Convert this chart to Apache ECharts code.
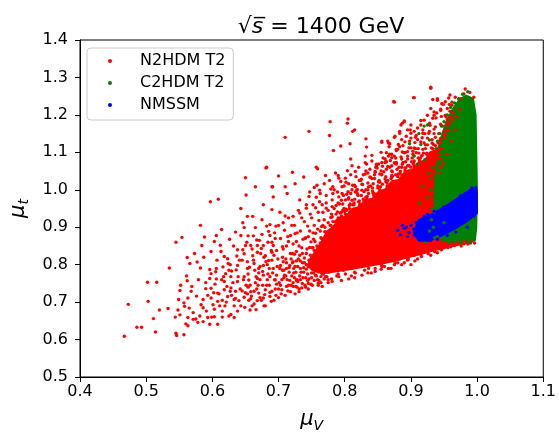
<!DOCTYPE html>
<html>
<head>
<meta charset="utf-8">
<script src="https://cdn.jsdelivr.net/npm/echarts@6/dist/echarts.min.js"></script>
<style>html,body{margin:0;padding:0;background:#fff}#c{width:559px;height:438px}</style>
</head>
<body>
<div id="c"></div>
<script>
// ---- data ----
const seriesNames = ['N2HDM T2', 'C2HDM T2', 'NMSSM'];
const xTicks = [0.4, 1.1, 0.1];   // min, max, step
const yTicks = [0.5, 1.4, 0.1];

// outlines of the regions where points overlap into solid colour [muV, mut]
const n2hdmCore = [[0.745,0.798],[0.752,0.786],[0.765,0.778],[0.785,0.783],[0.810,0.790],[0.835,0.798],[0.860,0.806],[0.885,0.816],[0.910,0.828],[0.935,0.840],[0.960,0.850],[0.985,0.860],[0.990,1.200],[0.978,1.205],[0.970,1.175],[0.962,1.178],[0.955,1.140],[0.948,1.135],[0.940,1.105],[0.930,1.100],[0.922,1.078],[0.912,1.072],[0.903,1.052],[0.892,1.048],[0.882,1.025],[0.872,1.022],[0.862,1.000],[0.852,0.995],[0.842,0.975],[0.832,0.972],[0.822,0.952],[0.812,0.948],[0.802,0.928],[0.792,0.920],[0.783,0.900],[0.774,0.888],[0.766,0.862],[0.758,0.840],[0.748,0.812]];
const c2hdmCore = [[0.983,1.250],[0.993,1.243],[0.997,1.200],[0.998,1.100],[0.999,1.000],[0.998,0.900],[0.996,0.866],[0.985,0.862],[0.965,0.862],[0.950,0.866],[0.942,0.880],[0.938,0.920],[0.936,0.980],[0.938,1.040],[0.942,1.090],[0.947,1.140],[0.954,1.180],[0.964,1.215],[0.974,1.240]];
const nmssmCore = [[0.912,0.918],[0.930,0.932],[0.950,0.952],[0.970,0.975],[0.988,0.997],[0.998,1.006],[0.999,0.990],[0.999,0.938],[0.985,0.918],[0.965,0.896],[0.945,0.878],[0.925,0.864],[0.912,0.866],[0.905,0.885]];

// individual points
const n2hdmPoints = [
[0.681,1.058],[0.650,1.032],[0.665,1.008],[0.691,1.008],[0.597,0.968],[0.609,0.975],[0.643,0.950],[0.651,0.986],[0.653,0.929],[0.661,0.929],
[0.675,0.920],[0.690,0.947],[0.677,0.960],[0.582,0.905],[0.614,0.894],[0.646,0.912],[0.648,0.899],[0.665,0.899],[0.682,0.903],[0.696,0.903],
[0.545,0.860],[0.554,0.873],[0.584,0.851],[0.606,0.878],[0.603,0.862],[0.635,0.887],[0.643,0.878],[0.654,0.877],[0.662,0.877],[0.675,0.881],
[0.687,0.878],[0.598,0.835],[0.613,0.835],[0.650,0.851],[0.658,0.851],[0.668,0.851],[0.677,0.851],[0.692,0.851],[0.562,0.819],[0.566,0.803],
[0.577,0.807],[0.623,0.816],[0.637,0.823],[0.648,0.829],[0.668,0.833],[0.680,0.824],[0.690,0.833],[0.535,0.791],[0.582,0.791],[0.598,0.776],
[0.605,0.781],[0.616,0.794],[0.620,0.776],[0.629,0.783],[0.638,0.798],[0.653,0.790],[0.663,0.803],[0.670,0.790],[0.677,0.798],[0.685,0.811],
[0.692,0.790],[0.502,0.753],[0.516,0.753],[0.562,0.757],[0.596,0.763],[0.606,0.762],[0.618,0.755],[0.628,0.768],[0.638,0.755],[0.648,0.768],
[0.655,0.759],[0.668,0.763],[0.677,0.772],[0.687,0.768],[0.695,0.759],[0.551,0.731],[0.568,0.729],[0.590,0.736],[0.598,0.737],[0.608,0.724],
[0.618,0.733],[0.627,0.729],[0.635,0.729],[0.645,0.730],[0.653,0.722],[0.663,0.729],[0.670,0.724],[0.680,0.733],[0.690,0.729],[0.473,0.694],
[0.503,0.702],[0.549,0.707],[0.563,0.711],[0.586,0.707],[0.598,0.711],[0.608,0.702],[0.623,0.715],[0.633,0.707],[0.648,0.713],[0.658,0.709],
[0.668,0.704],[0.677,0.711],[0.687,0.715],[0.520,0.679],[0.533,0.683],[0.548,0.679],[0.558,0.689],[0.571,0.672],[0.586,0.685],[0.591,0.676],
[0.603,0.681],[0.615,0.676],[0.628,0.667],[0.638,0.676],[0.657,0.679],[0.511,0.656],[0.544,0.660],[0.551,0.666],[0.563,0.659],[0.571,0.654],
[0.581,0.663],[0.593,0.659],[0.603,0.661],[0.615,0.660],[0.625,0.663],[0.633,0.659],[0.486,0.633],[0.493,0.633],[0.563,0.637],[0.578,0.646],
[0.586,0.648],[0.596,0.641],[0.608,0.641],[0.467,0.609],[0.514,0.620],[0.545,0.617],[0.557,0.613],[0.546,0.611],
[0.874,1.236],[0.904,1.246],[0.710,1.140],[0.746,1.156],[0.778,1.182],[0.805,1.189],[0.804,1.178],[0.777,1.145],[0.812,1.156],[0.815,1.160],
[0.783,1.105],[0.794,1.117],[0.808,1.123],[0.832,1.136],[0.833,1.114],[0.856,1.127],[0.865,1.130],[0.868,1.123],[0.875,1.140],[0.883,1.151],
[0.887,1.178],[0.890,1.184],[0.900,1.173],[0.682,1.060],[0.700,1.037],[0.721,1.047],[0.738,1.034],[0.757,1.060],[0.759,1.056],[0.790,1.038],
[0.791,1.031],[0.801,1.031],[0.809,1.082],[0.811,1.064],[0.804,1.051],[0.816,1.049],[0.831,1.090],[0.833,1.069],[0.841,1.077],[0.848,1.064],
[0.856,1.073],[0.861,1.082],[0.866,1.090],[0.871,1.095],[0.878,1.108],[0.881,1.121],[0.886,1.134],[0.893,1.143],[0.900,1.151],[0.690,1.008],
[0.692,0.981],[0.710,1.008],[0.713,0.990],[0.725,1.016],[0.732,0.973],[0.747,0.994],[0.754,1.006],[0.762,0.999],[0.769,1.016],[0.777,1.025],
[0.782,1.008],[0.789,0.994],[0.796,1.008],[0.806,1.016],[0.816,1.008],[0.824,1.025],[0.831,1.042],[0.838,1.034],[0.846,1.047],[0.853,1.042],
[0.863,1.055],[0.871,1.064],[0.878,1.073],[0.886,1.082],[0.895,1.090],[0.903,1.103],[0.702,0.940],[0.707,0.912],[0.687,0.907],[0.722,0.929],
[0.732,0.938],[0.742,0.951],[0.752,0.960],[0.762,0.968],[0.772,0.951],[0.781,0.973],[0.791,0.981],[0.801,0.973],[0.809,0.990],[0.816,0.994],
[0.826,0.999],[0.836,1.008],[0.843,1.016],[0.851,1.021],[0.861,1.029],[0.871,1.034],[0.881,1.042],[0.891,1.051],[0.900,1.060],
[0.930,1.271],[0.905,1.246],[0.875,1.234],[0.959,1.253],[0.933,1.241],[0.940,1.239],[0.947,1.230],[0.935,1.208],[0.945,1.212],[0.952,1.199],
[0.925,1.199],[0.933,1.191],[0.920,1.186],[0.915,1.173],[0.910,1.165],[0.890,1.182],[0.885,1.173],[0.883,1.156],[0.895,1.160],[0.905,1.156],
[0.918,1.151],[0.928,1.156],[0.856,1.130],[0.866,1.125],[0.876,1.143],[0.900,1.138],[0.910,1.134],[0.920,1.125],[0.932,1.134],[0.863,1.099],
[0.871,1.086],[0.880,1.108],[0.890,1.099],[0.900,1.112],[0.908,1.099],[0.918,1.108],[0.925,1.095],[0.935,1.103],[0.851,1.069],[0.861,1.073],
[0.868,1.060],[0.878,1.069],[0.888,1.073],[0.895,1.064],[0.905,1.077],[0.915,1.069],[0.925,1.077],[0.935,1.064],[0.945,1.082],[0.942,1.108],
[0.945,1.138],[0.950,1.156],[0.957,1.173],[0.960,1.195],[0.955,1.217],[0.962,1.226],[0.982,1.269],[0.980,1.256],[0.989,1.260],[0.975,1.243],
[0.967,1.247],[0.995,1.247],[0.962,1.234],[0.930,1.274],[0.940,1.243],[0.947,1.230],[0.930,1.217],[0.935,1.199],
[0.700,0.735],[0.705,0.760],[0.708,0.785],[0.712,0.805],[0.715,0.745],[0.718,0.830],[0.720,0.770],[0.722,0.855],[0.725,0.795],[0.728,0.740],
[0.730,0.815],[0.733,0.760],[0.735,0.845],[0.738,0.780],[0.740,0.870],[0.742,0.800],[0.745,0.750],[0.748,0.825],[0.750,0.765],[0.752,0.885],
[0.755,0.790],[0.758,0.850],[0.760,0.745],[0.762,0.810],[0.765,0.870],[0.768,0.775],[0.770,0.900],[0.772,0.835],[0.775,0.760],[0.778,0.880],
[0.780,0.800],[0.782,0.915],[0.785,0.855],[0.788,0.770],[0.790,0.895],[0.792,0.820],[0.795,0.930],[0.798,0.785],[0.800,0.870],[0.803,0.945],
[0.806,0.800],[0.810,0.905],[0.812,0.960],[0.815,0.780],[0.818,0.930],[0.822,0.970],[0.825,0.795],[0.828,0.950],[0.832,0.980],[0.835,0.810],
[0.840,0.965],[0.843,0.990],[0.846,0.790],[0.850,0.975],[0.853,1.000],[0.856,0.800],[0.860,0.985],[0.864,1.010],[0.868,0.815],[0.872,0.995],
[0.876,1.020],[0.880,0.805],[0.884,1.005],[0.888,1.030],[0.892,0.820],[0.896,1.015],[0.900,1.040],[0.905,0.825],[0.908,1.025],[0.912,1.050],
[0.916,0.835],[0.920,1.035],[0.924,1.060],[0.928,0.845],[0.932,1.045],[0.936,1.075],[0.940,0.850],[0.945,1.060],[0.950,0.845],
[0.690,0.860],[0.694,0.885],[0.697,0.838],[0.700,0.905],[0.703,0.870],[0.706,0.820],[0.709,0.892],[0.712,0.850],[0.715,0.925],[0.718,0.878],
[0.721,0.805],[0.724,0.905],[0.727,0.862],[0.730,0.945],[0.733,0.890],[0.736,0.830],[0.739,0.915],[0.742,0.960],[0.745,0.875],[0.748,0.935],
[0.751,0.845],[0.754,0.905],[0.757,0.980],[0.760,0.940],[0.763,0.890],[0.766,0.960],[0.769,0.920],[0.772,0.985],[0.775,0.945],[0.778,0.905],
[0.781,0.955],[0.784,1.000],[0.787,0.935],[0.790,0.965],[0.793,0.925],[0.796,0.990],[0.799,0.950],[0.802,1.020],[0.805,0.975],[0.808,0.940],
[0.811,1.000],[0.814,0.960],[0.817,1.035],[0.820,0.985],[0.823,0.950],[0.826,1.015],[0.829,0.970],[0.832,1.050],[0.835,1.000],[0.838,0.965],
[0.841,1.030],[0.844,0.985],[0.847,1.060],[0.850,1.010],[0.853,0.975],[0.856,1.040],[0.859,0.995],[0.862,1.075],[0.865,1.025],[0.868,0.985],
[0.871,1.050],[0.874,1.010],[0.877,1.085],[0.880,1.035],[0.883,0.995],[0.886,1.060],[0.889,1.020],[0.892,1.100],[0.895,1.045],[0.898,1.005],
[0.901,1.075],[0.904,1.030],[0.907,1.110],[0.910,1.055],[0.913,1.020],[0.916,1.090],[0.919,1.045],[0.922,1.120],[0.925,1.070],[0.928,1.030],
[0.931,1.100],[0.934,1.055],[0.937,1.140],[0.940,1.085],[0.943,1.045],[0.946,1.110],[0.949,1.070],[0.952,1.150],[0.955,1.095],[0.958,1.180],
[0.961,1.130],[0.964,1.205],[0.967,1.160],
[0.760,0.750],[0.780,0.762],[0.790,0.775],[0.810,0.770],[0.830,0.785],[0.840,0.778],[0.860,0.795],[0.870,0.790],[0.890,0.805],[0.900,0.800],
[0.910,0.815],[0.930,0.825],[0.940,0.832],[0.925,0.855],[0.960,0.848],[0.970,0.855],[0.980,0.856],[0.990,0.858],[0.955,0.850],[0.935,0.840],
[0.915,0.828],[0.895,0.812],[0.875,0.800],[0.855,0.788],[0.835,0.778],[0.815,0.765],[0.795,0.758],[0.775,0.752],[0.745,0.735],[0.725,0.722],
[0.710,0.718],[0.700,0.712],
[0.601,0.693],[0.604,0.748],[0.607,0.812],[0.610,0.722],[0.612,0.852],[0.615,0.705],[0.617,0.768],[0.619,0.690],[0.622,0.742],[0.624,0.803],
[0.626,0.868],[0.629,0.718],[0.631,0.752],[0.633,0.690],[0.636,0.786],[0.638,0.840],[0.640,0.704],[0.642,0.735],[0.645,0.812],[0.647,0.760],
[0.649,0.686],[0.652,0.860],[0.654,0.740],[0.656,0.793],[0.659,0.716],[0.661,0.824],[0.663,0.695],[0.665,0.752],[0.667,0.866],[0.670,0.778],
[0.672,0.712],[0.674,0.843],[0.676,0.745],[0.678,0.690],[0.681,0.808],[0.683,0.760],[0.685,0.889],[0.687,0.726],[0.689,0.838],[0.691,0.778],
[0.693,0.705],[0.695,0.870],[0.697,0.748],[0.699,0.815],[0.702,0.790],[0.704,0.722],[0.706,0.848],[0.708,0.765],[0.710,0.930],[0.712,0.742],
[0.714,0.875],[0.716,0.792],[0.718,0.728],[0.720,0.905],[0.722,0.752],[0.724,0.828],[0.726,0.780],[0.728,0.885],[0.731,0.735],[0.733,0.810],
[0.735,0.925],[0.552,0.745],[0.557,0.698],[0.561,0.770],[0.565,0.684],[0.569,0.742],[0.573,0.830],[0.576,0.716],[0.579,0.760],[0.583,0.693],
[0.587,0.820],[0.590,0.752],[0.593,0.718],[0.596,0.787],[0.599,0.660],[0.588,0.874],[0.575,0.655],[0.560,0.642],
[0.741,0.872],[0.744,0.903],[0.747,0.846],[0.750,0.925],[0.753,0.868],[0.756,0.952],[0.759,0.895],[0.761,0.918],[0.764,0.872],[0.767,0.940],
[0.770,0.888],[0.772,0.965],[0.775,0.912],[0.777,0.880],[0.780,0.935],[0.782,0.990],[0.785,0.902],[0.787,0.958],[0.790,0.925],[0.792,0.880],
[0.795,0.972],[0.797,0.945],[0.799,1.010],[0.746,0.982],[0.758,1.012],[0.763,0.990],[0.771,1.038],[0.779,1.002],[0.786,1.045],[0.794,1.022],
[0.801,0.935],[0.803,0.988],[0.805,0.915],[0.807,0.958],[0.809,1.040],[0.811,0.972],[0.813,0.925],[0.815,1.012],[0.817,0.948],[0.819,0.990],
[0.821,1.060],[0.823,0.962],[0.825,1.028],[0.827,0.938],[0.829,0.995],[0.831,1.072],[0.833,0.975],[0.835,1.045],[0.837,0.950],[0.839,1.010],
[0.841,1.092],[0.843,0.968],[0.845,1.030],[0.847,0.988],[0.849,1.058],[0.851,0.958],[0.853,1.020],[0.855,1.100],[0.857,0.980],[0.859,1.048],
[0.861,0.995],[0.863,1.075],[0.865,1.005],[0.867,1.115],[0.869,0.975],[0.871,1.038],[0.873,1.008],[0.875,1.090],[0.877,0.990],[0.879,1.055],
[0.881,1.020],[0.883,1.115],[0.885,0.998],[0.887,1.068],[0.889,1.040],[0.891,1.128],[0.893,1.012],[0.895,1.082],[0.897,1.050],[0.899,1.160],
[0.901,1.025],[0.903,1.095],[0.905,1.062],[0.907,1.140],[0.909,1.035],[0.911,1.110],[0.913,1.078],[0.915,1.185],[0.917,1.048],[0.919,1.098],
[0.921,1.150],[0.923,1.065],[0.925,1.120],[0.927,1.088],[0.929,1.172],[0.931,1.058],[0.933,1.110],[0.935,1.150],[0.937,1.080],[0.939,1.205],
[0.941,1.125],[0.943,1.095],[0.945,1.175],[0.947,1.110],[0.949,1.228],[0.951,1.140],[0.953,1.195],[0.955,1.160],[0.957,1.245],[0.959,1.210],
[0.749,0.861],[0.754,0.838],[0.756,0.884],[0.763,0.858],[0.767,0.905],[0.774,0.871],[0.779,0.926],[0.781,0.889],[0.789,0.941],[0.791,0.906],
[0.797,0.962],[0.804,0.921],[0.806,0.979],[0.814,0.941],[0.819,1.001],[0.822,0.957],[0.827,1.014],[0.834,0.982],[0.839,1.033],[0.842,0.997],
[0.846,1.049],[0.854,1.008],[0.857,1.063],[0.862,1.022],[0.869,1.078],[0.872,1.036],[0.876,1.071],[0.884,1.049],[0.887,1.101],[0.892,1.058],
[0.897,1.112],[0.904,1.071],[0.906,1.126],[0.914,1.084],[0.917,1.139],[0.924,1.098],[0.927,1.151],[0.934,1.121],[0.937,1.168],[0.944,1.133],
[0.946,1.196],[0.954,1.176],
[0.722,0.742],[0.727,0.758],[0.731,0.728],[0.736,0.750],[0.741,0.740],[0.746,0.762],[0.751,0.745],[0.756,0.772],[0.761,0.758],[0.766,0.742],
[0.771,0.768],[0.776,0.780],[0.781,0.755],[0.786,0.785],[0.791,0.768],[0.796,0.790],[0.801,0.775],[0.806,0.762],[0.811,0.790],[0.816,0.778],
[0.821,0.798],[0.826,0.772],[0.831,0.800],[0.836,0.790],[0.841,0.805],[0.846,0.782],[0.851,0.812],[0.856,0.795],[0.861,0.808],[0.866,0.790],
[0.871,0.815],[0.876,0.805],[0.881,0.822],[0.886,0.800],[0.891,0.828],[0.896,0.815],[0.901,0.832],[0.906,0.810],[0.911,0.838],[0.916,0.822],
[0.921,0.842],[0.926,0.830],[0.931,0.848],[0.936,0.835],[0.941,0.852],[0.946,0.840],[0.951,0.856],[0.956,0.846],[0.961,0.858],[0.966,0.852],
[0.971,0.860],[0.976,0.850],[0.981,0.862],[0.986,0.855],[0.991,0.862],[0.996,0.858],
[0.701,0.752],[0.703,0.798],[0.705,0.733],[0.707,0.842],[0.709,0.772],[0.711,0.815],[0.713,0.760],[0.715,0.862],[0.717,0.798],[0.719,0.745],
[0.721,0.830],[0.723,0.778],[0.725,0.883],[0.727,0.810],[0.729,0.755],[0.731,0.850],[0.733,0.790],[0.735,0.738],[0.737,0.868],[0.739,0.818],
[0.741,0.765],[0.743,0.842],[0.745,0.795],[0.747,0.890],[0.749,0.748],[0.751,0.820],[0.753,0.778],[0.755,0.862],[0.757,0.805],[0.759,0.760],
[0.761,0.835],[0.763,0.785],[0.765,0.902],[0.767,0.815],[0.769,0.762],[0.771,0.852],[0.773,0.798],[0.775,0.826],[0.716,0.780],[0.726,0.742],
[0.736,0.805],[0.744,0.775],[0.752,0.845],[0.758,0.790],[0.764,0.768],[0.768,0.840],[0.774,0.782],[0.732,0.770],[0.712,0.790],[0.722,0.808],
[0.742,0.830],[0.756,0.825],[0.748,0.808],[0.738,0.792],
[0.602,0.725],[0.606,0.790],[0.611,0.690],[0.614,0.760],[0.618,0.822],[0.621,0.700],[0.625,0.785],[0.628,0.738],[0.632,0.850],[0.635,0.710],
[0.639,0.768],[0.643,0.690],[0.646,0.840],[0.650,0.725],[0.653,0.808],[0.657,0.745],[0.660,0.690],[0.664,0.785],[0.667,0.735],[0.671,0.865],
[0.674,0.705],[0.678,0.820],[0.682,0.745],[0.686,0.790],[0.689,0.702],[0.693,0.825],[0.697,0.772],[0.672,0.795],[0.684,0.860],[0.660,0.842],
[0.641,0.812],[0.627,0.800],[0.655,0.705],[0.695,0.735],[0.666,0.680],[0.680,0.690],
[0.781,0.928],[0.784,0.950],[0.788,0.918],[0.792,0.962],[0.795,0.940],[0.798,0.985],[0.802,0.948],[0.805,0.995],[0.808,0.962],[0.812,1.012],
[0.815,0.975],[0.818,0.998],[0.822,1.025],[0.825,0.985],[0.828,1.040],[0.832,1.000],[0.835,1.018],[0.838,1.055],[0.842,1.005],[0.845,1.040],
[0.848,1.068],[0.852,1.025],[0.855,1.050],[0.858,1.085],[0.862,1.035],[0.865,1.062],[0.868,1.095],[0.872,1.048],[0.875,1.072],[0.878,1.105],
[0.882,1.060],[0.885,1.088],[0.888,1.118],[0.892,1.075],[0.895,1.102],[0.898,1.130],[0.902,1.085],[0.905,1.112],[0.908,1.145],[0.912,1.098],
[0.915,1.128],[0.918,1.160],[0.922,1.110],[0.925,1.138],[0.928,1.178],[0.932,1.125],[0.935,1.162],[0.938,1.192],[0.942,1.150],[0.945,1.215],
[0.948,1.170],[0.952,1.235],[0.955,1.188],[0.958,1.228],
[0.742,0.788],[0.746,0.812],[0.750,0.778],[0.753,0.800],[0.757,0.770],[0.760,0.822],[0.763,0.795],[0.766,0.775],[0.769,0.845],[0.772,0.808],
[0.776,0.790],[0.779,0.860],[0.744,0.758],[0.754,0.758],[0.764,0.752],[0.773,0.768],[0.739,0.805],[0.734,0.780],[0.729,0.795],[0.724,0.765],
[0.779,0.905],[0.786,0.915],[0.793,0.938],[0.800,0.942],[0.807,0.950],[0.814,0.965],[0.821,0.968],[0.828,0.975],[0.836,0.990],[0.843,0.992],
[0.850,1.005],[0.857,1.015],[0.864,1.018],[0.870,1.030],[0.877,1.040],[0.884,1.042],[0.891,1.058],[0.897,1.065],[0.904,1.068],[0.911,1.085],
[0.917,1.092],[0.924,1.095],[0.931,1.112],[0.937,1.118],[0.944,1.128],[0.950,1.148],[0.957,1.158],[0.963,1.188],[0.969,1.195],[0.973,1.215],
[0.651,0.745],[0.654,0.775],[0.658,0.728],[0.662,0.812],[0.666,0.768],[0.669,0.745],[0.673,0.830],[0.676,0.782],[0.679,0.720],[0.683,0.800],
[0.686,0.745],[0.690,0.812],[0.694,0.760],[0.698,0.795],[0.703,0.745],[0.707,0.808],[0.711,0.770],[0.714,0.730],[0.719,0.815],[0.723,0.790],
[0.728,0.760],[0.732,0.825],[0.737,0.765],[0.740,0.745],[0.684,0.775],[0.696,0.718],[0.706,0.785],[0.717,0.758],[0.727,0.835],[0.672,0.760]
];

const c2hdmPoints = [
[0.898,1.123],[0.920,1.170],[0.928,1.133],[0.910,1.068],[0.925,1.173],[0.915,1.121],[0.913,0.964],[0.950,0.912],[0.930,1.000],[0.932,0.950],
[0.934,0.900],[0.940,0.875],[0.948,0.864],[0.944,1.150],[0.950,1.182],[0.960,1.220],[0.972,1.243],[0.930,1.030],[0.925,0.980],[0.921,1.080],
[0.936,0.872],[0.928,0.890],[0.933,1.060],[0.938,1.110],[0.946,1.170],[0.955,1.200],[0.966,1.232],[0.935,0.940],[0.931,0.920],[0.940,1.130],
[0.922,0.860],[0.958,0.858],[0.975,0.858],[0.990,0.860],[0.927,1.045],[0.918,1.010],[0.905,1.090],[0.912,1.150],[0.978,1.255],[0.986,1.262]
];

const nmssmPoints = [
[0.880,0.892],[0.884,0.880],[0.890,0.897],[0.893,0.900],[0.897,0.886],[0.900,0.905],[0.904,0.895],[0.905,0.879],[0.908,0.912],[0.910,0.888],
[0.912,0.870],[0.914,0.918],[0.916,0.900],[0.918,0.878],[0.920,0.930],[0.922,0.866],[0.925,0.935],[0.930,0.865],[0.935,0.942],[0.940,0.868],
[0.950,0.955],[0.955,0.878],[0.962,0.965],[0.968,0.887],[0.975,0.984],[0.985,0.900],[0.992,1.005],[0.995,0.930],[0.887,0.905],[0.895,0.875]
];

const colors = ['#ff0000', '#008000', '#0000ff'];
const FONT = 'DejaVu Sans';

function coreSeries(name, verts, color) {
  return {
    type: 'custom', name: name, coordinateSystem: 'cartesian2d', silent: true, clip: true,
    data: [verts[0]],
    renderItem: function (params, api) {
      const pts = verts.map(function (v) { return api.coord(v); });
      return { type: 'polygon', shape: { points: pts },
        style: { fill: color, stroke: color, lineWidth: 3, lineJoin: 'round' } };
    }
  };
}
function dotSeries(name, pts, color) {
  return { type: 'scatter', name: name, data: pts, symbol: 'circle', symbolSize: 3.4,
    itemStyle: { color: color, opacity: 1 }, silent: true, large: false };
}

const chart = echarts.init(document.getElementById('c'), null, { renderer: 'canvas' });
chart.setOption({
  animation: false,
  backgroundColor: '#fff',
  title: {
    text: '{r|√}{s|s̅}{n| = 1400 GeV}',
    left: 316, top: 11, textAlign: 'center',
    textStyle: { fontWeight: 'normal', rich: {
      r: { fontSize: 22, fontFamily: FONT, fontWeight: 'normal', color: '#000' },
      s: { fontSize: 22, fontFamily: FONT, fontWeight: 'normal', fontStyle: 'italic', color: '#000' },
      n: { fontSize: 22, fontFamily: FONT, fontWeight: 'normal', color: '#000' }
    } }
  },
  grid: { left: 80, right: 8, top: 40, bottom: 54, show: true, borderColor: '#000', borderWidth: 1, backgroundColor: 'transparent' },
  legend: {
    orient: 'vertical', left: 87, top: 48,
    data: seriesNames, icon: 'circle', itemWidth: 4, itemHeight: 4, itemGap: 6,
    padding: [5, 8, 7, 21],
    backgroundColor: 'rgba(255,255,255,0.8)', borderColor: '#cccccc', borderWidth: 1, borderRadius: 4,
    textStyle: { fontSize: 16, fontFamily: FONT, color: '#000', lineHeight: 16, padding: [0, 0, 0, 23] }
  },
  xAxis: {
    type: 'value', min: xTicks[0], max: xTicks[1], interval: xTicks[2],
    name: '{m|μ}{s|V}', nameLocation: 'middle', nameGap: 30,
    nameTextStyle: { rich: {
      m: { fontSize: 21, fontFamily: FONT, fontStyle: 'italic', color: '#000', lineHeight: 26 },
      s: { fontSize: 14, fontFamily: FONT, fontStyle: 'italic', color: '#000', lineHeight: 14, padding: [6, 0, 0, 0], verticalAlign: 'bottom' }
    } },
    axisLine: { show: true, lineStyle: { color: '#000', width: 1 } },
    axisTick: { show: true, length: 5, lineStyle: { color: '#000' } },
    axisLabel: { fontSize: 16, fontFamily: FONT, color: '#000', margin: 7, formatter: function (v) { return v.toFixed(1); } },
    splitLine: { show: false }
  },
  yAxis: {
    type: 'value', min: yTicks[0], max: yTicks[1], interval: yTicks[2],
    name: '{m|μ}{s|t}', nameLocation: 'middle', nameGap: 48, nameRotate: 90,
    nameTextStyle: { rich: {
      m: { fontSize: 21, fontFamily: FONT, fontStyle: 'italic', color: '#000', lineHeight: 26 },
      s: { fontSize: 14, fontFamily: FONT, fontStyle: 'italic', color: '#000', lineHeight: 14, padding: [6, 0, 0, 0], verticalAlign: 'bottom' }
    } },
    axisLine: { show: true, lineStyle: { color: '#000', width: 1 } },
    axisTick: { show: true, length: 5, lineStyle: { color: '#000' } },
    axisLabel: { fontSize: 16, fontFamily: FONT, color: '#000', margin: 12, formatter: function (v) { return v.toFixed(1); } },
    splitLine: { show: false }
  },
  series: [
    coreSeries('N2HDM T2 dense', n2hdmCore, colors[0]),
    dotSeries(seriesNames[0], n2hdmPoints, colors[0]),
    coreSeries('C2HDM T2 dense', c2hdmCore, colors[1]),
    dotSeries(seriesNames[1], c2hdmPoints, colors[1]),
    coreSeries('NMSSM dense', nmssmCore, colors[2]),
    dotSeries(seriesNames[2], nmssmPoints, colors[2])
  ]
});
</script>
</body>
</html>
